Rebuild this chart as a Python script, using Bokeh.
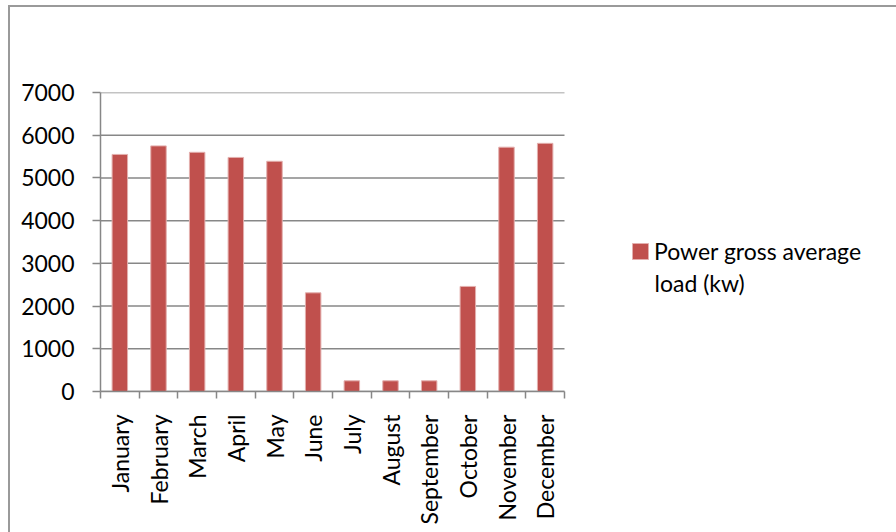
import math
from bokeh.plotting import figure
from bokeh.models import ColumnDataSource, FixedTicker, Range1d, Legend, LegendItem, Label
from bokeh.embed import file_html
from bokeh.resources import INLINE

months = ["January", "February", "March", "April", "May", "June", "July",
          "August", "September", "October", "November", "December"]
load_kw = [5550, 5750, 5600, 5480, 5390, 2310, 250, 250, 250, 2460, 5720, 5810]
y_ticks = [0, 1000, 2000, 3000, 4000, 5000, 6000, 7000]
series_name_lines = ["Power gross average", "load (kw)"]

FONT = "Lato"
GRID = "#878787"

FIG_W, FIG_H = 888, 527
BORDER_L = 90
PLOT_PX = 464          # width of the bar area in pixels
frame_px = FIG_W - BORDER_L
n = len(months)
x_end = n * frame_px / PLOT_PX

centers = [i + 0.5 for i in range(n)]
src = ColumnDataSource(dict(x=centers, top=load_kw))
grid_src = ColumnDataSource(dict(x0=[0] * len(y_ticks), x1=[n] * len(y_ticks),
                                 y=y_ticks))

p = figure(width=FIG_W, height=FIG_H, output_backend="svg", toolbar_location=None,
           x_range=Range1d(0, x_end), y_range=Range1d(0, 7000),
           min_border_left=BORDER_L, min_border_right=0, min_border_top=85,
           min_border_bottom=143)
p.styles = {"margin-left": "8px", "margin-top": "5px",
            "border-left": "2px solid #9a9a9a", "border-top": "2px solid #9a9a9a"}
p.outline_line_color = None
p.background_fill_color = "white"
p.border_fill_color = "white"
p.xgrid.visible = False
p.ygrid.visible = False

p.segment(x0="x0", x1="x1", y0="y", y1="y", source=grid_src,
          line_color=GRID, line_width=1.5)

r = p.vbar(x="x", top="top", width=0.4, bottom=0, source=src,
           fill_color="#C0504D", line_color="#E3AFAE", line_width=1)

# x axis
xa = p.xaxis[0]
xa.bounds = (0, n)
xa.ticker = FixedTicker(ticks=centers, minor_ticks=list(range(n + 1)))
xa.major_label_overrides = {c: m for c, m in zip(centers, months)}
xa.major_label_orientation = math.pi / 2
xa.major_tick_out = 0
xa.major_tick_in = 0
xa.minor_tick_out = 7
xa.minor_tick_in = 0
xa.minor_tick_line_color = GRID
xa.minor_tick_line_width = 1.5
xa.axis_line_color = GRID
xa.axis_line_width = 1.5
xa.major_label_standoff = 16
xa.major_label_text_font = FONT
xa.major_label_text_font_size = "23px"
xa.major_label_text_color = "black"

# y axis
ya = p.yaxis[0]
ya.ticker = FixedTicker(ticks=y_ticks, minor_ticks=[])
ya.major_tick_out = 8
ya.major_tick_in = 0
ya.major_tick_line_color = GRID
ya.major_tick_line_width = 1.5
ya.axis_line_color = GRID
ya.axis_line_width = 1.5
ya.major_label_standoff = 18
ya.major_label_text_font = FONT
ya.major_label_text_font_size = "23px"
ya.major_label_text_color = "black"

legend = Legend(items=[LegendItem(label=series_name_lines[0], renderers=[r])],
                location=(530, 126), padding=0, margin=0, spacing=0,
                glyph_width=20, glyph_height=20, label_standoff=4,
                border_line_color=None, background_fill_alpha=0,
                label_text_font=FONT, label_text_font_size="23px",
                label_text_color="black")
p.add_layout(legend, "center")

p.add_layout(Label(x=554, y=109, x_units="screen", y_units="screen",
                   text=series_name_lines[1], text_font=FONT,
                   text_font_size="23px", text_color="black",
                   text_baseline="alphabetic", text_align="left"))

open("out.html", "w").write(file_html(p, INLINE))
